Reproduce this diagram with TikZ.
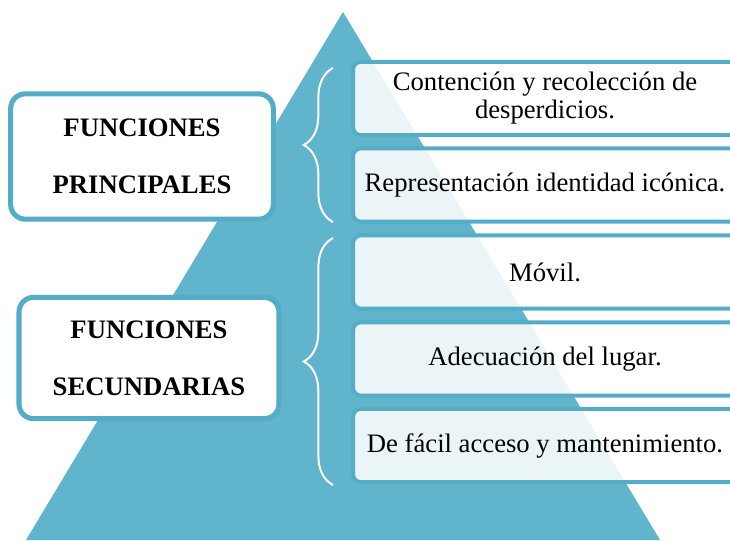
\documentclass[tikz,border=0pt]{standalone}
\usepackage{fontspec}
\setmainfont{Liberation Serif}
\usepackage{tikz}
\usetikzlibrary{decorations.pathreplacing}

\definecolor{pyr}{RGB}{96,180,203}
\definecolor{edge}{RGB}{84,172,199}

\begin{document}
\begin{tikzpicture}[
    x=0.75pt, y=0.75pt,
    item/.style={draw=edge, line width=3pt, rounded corners=6pt, fill=white,
      fill opacity=0.88, text opacity=1, minimum width=288pt, minimum height=55pt,
      align=center, font=\fontsize{20}{21}\selectfont, inner sep=0pt},
    head/.style={draw=edge, line width=3.8pt, rounded corners=11pt, fill=white,
      align=center, font=\fontsize{20}{23}\selectfont\bfseries, inner sep=0pt},
    curly/.style={white, line width=1.5pt, decorate,
      decoration={brace, amplitude=22pt}},
  ]
    \useasboundingbox (0,0) rectangle (730,540);
    \begin{scope}
    \clip (0,0) rectangle (730,540);

    % pyramid
    \fill[pyr] (26,0) -- (343,528) -- (660,0) -- cycle;

    % right column
    \node[item] (f1) at (545,441.5) {Contención y recolección de\\desperdicios.};
    \node[item] (f2) at (545,355)   {Representación identidad icónica.};
    \node[item] (f3) at (545,268)   {Móvil.};
    \node[item] (f4) at (545,181)   {Adecuación del lugar.};
    \node[item] (f5) at (545,94.5)  {De fácil acceso y mantenimiento.};

    % left headings
    \node[head, minimum width=197pt, minimum height=94pt] (prin) at (142,383.5)
      {FUNCIONES\\[20pt]PRINCIPALES};
    \node[head, minimum width=195pt, minimum height=91pt] (secu) at (149,182)
      {FUNCIONES\\[20pt]SECUNDARIAS};

    % braces
    \coordinate (b1s) at (333,318);
    \coordinate (b1e) at (333,472);
    \coordinate (b2s) at (333,55);
    \coordinate (b2e) at (333,302);
    \draw[curly] (b1s) -- (b1e);
    \draw[curly] (b2s) -- (b2e);
    \end{scope}
\end{tikzpicture}
\end{document}
